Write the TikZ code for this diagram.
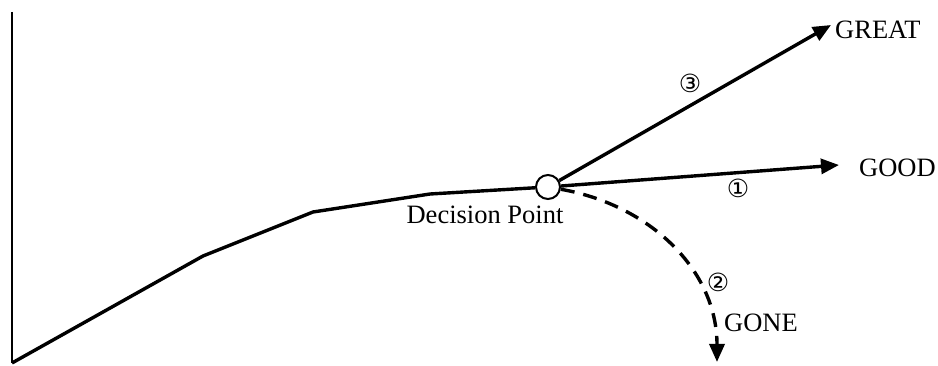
\documentclass[tikz,border=0pt]{standalone}
\usepackage{fontspec}
\setmainfont{Liberation Serif}
\newfontfamily\symfont{DejaVu Sans}
\usetikzlibrary{arrows.meta}
\begin{document}
\begin{tikzpicture}[x=1pt,y=-1pt,
  trend/.style={line width=3.4pt, line join=round},
  tipped/.style={-{Triangle[length=18pt,width=15pt]}},
  lbl/.style={font=\fontsize{26.5}{30}\selectfont, inner sep=0pt, anchor=base west},
  num/.style={font=\symfont\fontsize{25}{28}\selectfont, inner sep=0pt}]
\useasboundingbox (0,0) rectangle (938,366);
% axis and trend line
\coordinate (top) at (12,12);
\coordinate (origin) at (12,363);
\coordinate (p1) at (203,256);
\coordinate (p2) at (313,212);
\coordinate (p3) at (430,194);
\coordinate (great) at (831,25);
\coordinate (good) at (839,165);
\coordinate (gone) at (717,362);
\node[circle, draw, line width=2pt, minimum size=24pt, inner sep=0pt, fill=white] (dp) at (548,187) {};
\draw[line width=1.4pt] (top) -- (origin);
\draw[trend] (origin) -- (p1) -- (p2) -- (p3) -- (dp);
% the three outcomes
\draw[trend,tipped] (dp) -- (great);
\draw[trend,tipped] (dp) -- (good);
\draw[trend,tipped,dash pattern=on 14pt off 9pt] (dp) .. controls (650,205) and (717,270) .. (gone);
% labels
\node[lbl, anchor=base] (dplbl) at (485,224) {Decision Point};
\node[lbl] (greatlbl) at (835,39) {GREAT};
\node[lbl] (goodlbl) at (859,177) {GOOD};
\node[lbl] (gonelbl) at (724,332) {GONE};
\node[num] (n1) at (738,188) {①};
\node[num] (n2) at (718,282) {②};
\node[num] (n3) at (690,83) {③};
\end{tikzpicture}
\end{document}
